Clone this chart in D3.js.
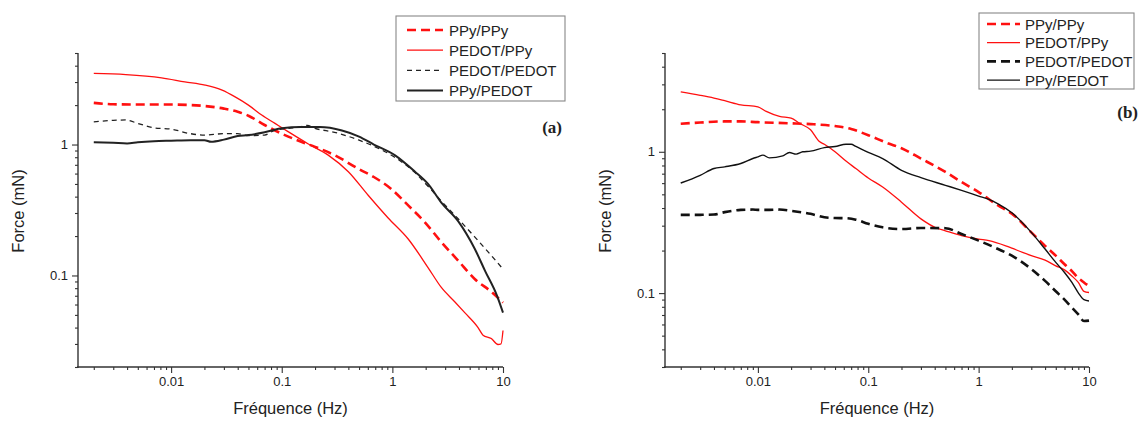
<!DOCTYPE html>
<html>
<head>
<meta charset="utf-8">
<script src="https://cdn.jsdelivr.net/npm/d3@7"></script>
<style>
  body { margin: 0; background: #fff; }
  text { font-family: "Liberation Sans", Arial, sans-serif; fill: #222; }
</style>
</head>
<body>
<svg id="drawing_region"></svg>
<script>
// ---- data (frequency in Hz, force in mN) ----
const SERIES_NAMES = ['PPy/PPy', 'PEDOT/PPy', 'PEDOT/PEDOT', 'PPy/PEDOT'];
const X_TICK_LABELS = [0.01, 0.1, 1, 10];
const Y_TICK_LABELS = [0.1, 1];

// panel (a)
const a_ppy_ppy = [[0.002,2.08],[0.003,2.03],[0.005,2.02],[0.01,2.02],[0.02,1.97],[0.03,1.88],[0.04,1.78],
  [0.05,1.66],[0.07,1.41],[0.1,1.21],[0.15,1.05],[0.2,0.96],[0.3,0.83],[0.49,0.655],[0.68,0.565],[0.97,0.46],
  [1.39,0.343],[1.96,0.256],[2.77,0.18],[3.93,0.13],[5.55,0.094],[7.84,0.075],[10,0.062]];
const a_pedot_ppy = [[0.002,3.49],[0.0039,3.42],[0.0082,3.23],[0.0133,3.01],[0.0203,2.84],[0.0289,2.60],
  [0.0379,2.31],[0.05,2.0],[0.0659,1.68],[0.0869,1.45],[0.115,1.25],[0.174,1.01],[0.263,0.83],[0.40,0.62],
  [0.604,0.41],[0.916,0.275],[1.39,0.19],[2.10,0.115],[2.77,0.081],[3.66,0.063],[4.51,0.052],[5.95,0.040],
  [6.6,0.035],[7.84,0.033],[9.0,0.0297],[9.6,0.030],[10,0.038]];
const a_pedot_pedot = [[0.002,1.49],[0.003,1.53],[0.0039,1.54],[0.005,1.45],[0.007,1.34],[0.01,1.31],
  [0.015,1.21],[0.02,1.18],[0.03,1.21],[0.04,1.21],[0.05,1.17],[0.07,1.18],[0.087,1.29],[0.1,1.31],
  [0.15,1.37],[0.17,1.40],[0.2,1.33],[0.3,1.24],[0.5,1.08],[0.7,0.96],[1.05,0.80],[1.6,0.61],[2.1,0.48],
  [2.77,0.37],[3.93,0.271],[5.55,0.197],[7.84,0.142],[10,0.112]];
const a_ppy_pedot = [[0.002,1.04],[0.003,1.03],[0.004,1.02],[0.005,1.04],[0.007,1.06],[0.01,1.07],
  [0.015,1.08],[0.02,1.08],[0.023,1.05],[0.03,1.09],[0.04,1.16],[0.05,1.18],[0.07,1.24],[0.1,1.33],
  [0.15,1.36],[0.22,1.36],[0.35,1.28],[0.5,1.15],[0.68,1.0],[1.05,0.83],[1.6,0.62],[2.1,0.50],[2.77,0.36],
  [3.93,0.26],[5.55,0.16],[6.9,0.108],[8.8,0.0705],[10,0.052]];

// panel (b)
const b_ppy_ppy = [[0.002,1.58],[0.003,1.61],[0.005,1.64],[0.007,1.64],[0.01,1.62],[0.02,1.59],[0.03,1.57],
  [0.05,1.52],[0.07,1.45],[0.1,1.31],[0.15,1.15],[0.2,1.06],[0.3,0.896],[0.5,0.72],[0.7,0.611],[1,0.519],
  [1.5,0.417],[2,0.365],[3,0.269],[4,0.216],[5,0.184],[6,0.160],[7,0.143],[8,0.128],[9,0.119],[10,0.112]];
const b_pedot_ppy = [[0.002,2.65],[0.003,2.51],[0.004,2.40],[0.005,2.30],[0.007,2.15],[0.01,2.08],
  [0.0119,1.93],[0.0157,1.78],[0.02,1.73],[0.0238,1.59],[0.03,1.43],[0.0361,1.18],[0.04,1.13],[0.05,1.00],
  [0.0628,0.86],[0.0772,0.761],[0.1,0.653],[0.135,0.563],[0.2,0.44],[0.3,0.335],[0.41,0.29],[0.5,0.276],
  [0.7,0.255],[1,0.241],[1.24,0.235],[1.76,0.216],[2,0.208],[2.5,0.194],[3,0.184],[4,0.171],[5,0.156],
  [6,0.146],[7,0.132],[8,0.119],[9,0.103],[10,0.101]];
const b_pedot_pedot = [[0.002,0.358],[0.003,0.358],[0.004,0.360],[0.005,0.374],[0.007,0.388],[0.009,0.390],
  [0.01,0.388],[0.0127,0.388],[0.0157,0.390],[0.02,0.382],[0.03,0.364],[0.04,0.344],[0.05,0.340],
  [0.0628,0.339],[0.0772,0.331],[0.1,0.309],[0.135,0.292],[0.2,0.284],[0.3,0.289],[0.5,0.288],[0.7,0.262],
  [1,0.235],[1.5,0.205],[2,0.184],[3,0.148],[4,0.122],[5,0.103],[6,0.090],[7,0.079],[8,0.0707],[9,0.0634],
  [10,0.0639]];
const b_ppy_pedot = [[0.002,0.601],[0.003,0.682],[0.004,0.761],[0.005,0.782],[0.007,0.826],[0.009,0.896],
  [0.01,0.921],[0.0111,0.947],[0.0127,0.906],[0.0168,0.936],[0.0193,0.989],[0.0222,0.962],[0.0255,1.00],
  [0.03,1.01],[0.04,1.07],[0.05,1.09],[0.0628,1.13],[0.07,1.13],[0.0772,1.09],[0.1,0.989],[0.135,0.896],
  [0.2,0.74],[0.3,0.656],[0.5,0.579],[0.7,0.533],[1,0.486],[1.24,0.46],[1.5,0.428],[2,0.37],[3,0.269],
  [4,0.205],[5,0.165],[6,0.140],[7,0.119],[8,0.1005],[9,0.090],[10,0.088]];

// line styles per panel, same order as SERIES_NAMES
const RED = '#ff1010', BLACK = '#111';
const styles_a = [
  {color: RED, width: 2.6, dash: '9,5'},
  {color: RED, width: 1.3, dash: null},
  {color: '#222', width: 1.3, dash: '5,4'},
  {color: '#222', width: 2.0, dash: null}
];
const styles_b = [
  {color: RED, width: 2.6, dash: '9,5'},
  {color: RED, width: 1.3, dash: null},
  {color: BLACK, width: 2.6, dash: '9,5'},
  {color: BLACK, width: 1.4, dash: null}
];

const svg = d3.select('#drawing_region')
  .attr('width', 1145)
  .attr('height', 424);

class LogPanel {
  constructor(config, series) {
    this.config = config;
    this.series = series;
    this.init();
  }

  init() {
    let self = this;
    const c = self.config;
    self.xscale = d3.scaleLog().domain(c.xdomain).range([c.left, c.right]);
    self.yscale = d3.scaleLog().domain(c.ydomain).range([c.bottom, c.top]);
  }

  // every 1..9 x 10^n inside the domain
  allTicks(domain) {
    const out = [];
    for (let e = -4; e <= 2; e++) {
      for (let k = 1; k <= 9; k++) {
        const v = +(k * Math.pow(10, e)).toPrecision(2);
        if (v >= domain[0] * 0.999 && v <= domain[1] * 1.001) out.push(v);
      }
    }
    return out;
  }

  render() {
    let self = this;
    const c = self.config;
    const g = svg.append('g');

    // series
    const line = d3.line()
      .curve(d3.curveMonotoneX)
      .x(d => self.xscale(d[0]))
      .y(d => self.yscale(d[1]));

    g.selectAll('path.series')
      .data(self.series)
      .join('path')
      .attr('class', 'series')
      .attr('d', d => line(d.values))
      .attr('fill', 'none')
      .attr('stroke', d => d.style.color)
      .attr('stroke-width', d => d.style.width)
      .attr('stroke-dasharray', d => d.style.dash)
      .attr('stroke-linejoin', 'round');

    // axes
    const xmajor = X_TICK_LABELS;
    const ymajor = Y_TICK_LABELS;
    const xAxis = d3.axisBottom(self.xscale)
      .tickValues(self.allTicks([0.002, 10]))
      .tickFormat(d => xmajor.includes(d) ? String(d) : '')
      .tickSizeOuter(0).tickSize(6).tickPadding(4);
    const yAxis = d3.axisLeft(self.yscale)
      .tickValues(self.allTicks(c.ydomain))
      .tickFormat(d => ymajor.includes(d) ? String(d) : '')
      .tickSizeOuter(0).tickSize(6).tickPadding(4);

    const gx = g.append('g').attr('transform', `translate(0,${c.bottom})`).call(xAxis);
    const gy = g.append('g').attr('transform', `translate(${c.left},0)`).call(yAxis);

    [gx, gy].forEach(ax => {
      ax.select('.domain').attr('stroke', '#333').attr('stroke-width', 1.4);
      ax.selectAll('.tick line').attr('stroke', '#333').attr('stroke-width', 1.1);
      ax.selectAll('.tick text')
        .attr('font-size', 13)
        .attr('font-family', '"Liberation Sans", Arial, sans-serif')
        .attr('fill', '#222');
    });
    gx.selectAll('.tick line').attr('y2', d => xmajor.includes(d) ? 6 : 3);
    gy.selectAll('.tick line').attr('x2', d => ymajor.includes(d) ? -6 : -3);
    // extend the axis lines so they meet in the corner
    gx.select('.domain').attr('d', `M${c.left - 1},0H${c.right}`);
    gy.select('.domain').attr('d', `M0,${c.top}V${c.bottom + 1}`);

    // axis titles
    g.append('text')
      .attr('x', (c.left + c.right) / 2)
      .attr('y', 414)
      .attr('text-anchor', 'middle')
      .attr('font-size', 16.5)
      .text('Fréquence (Hz)');
    g.append('text')
      .attr('transform', `translate(${c.ytitle_x},${(c.top + c.bottom) / 2 + 1}) rotate(-90)`)
      .attr('text-anchor', 'middle')
      .attr('font-size', 16.5)
      .text('Force (mN)');

    // panel letter
    g.append('text')
      .attr('x', c.tag[0]).attr('y', c.tag[1])
      .attr('text-anchor', 'end')
      .attr('font-size', 17)
      .attr('font-weight', 'bold')
      .style('font-family', '"Liberation Serif", "Times New Roman", serif')
      .text(c.tagText);

    // legend
    const L = c.legend;
    g.append('rect')
      .attr('x', L.x).attr('y', L.y).attr('width', L.w).attr('height', L.h)
      .attr('fill', '#fff').attr('stroke', '#888').attr('stroke-width', 1.1);
    const items = g.selectAll('g.leg')
      .data(self.series)
      .join('g')
      .attr('class', 'leg')
      .attr('transform', (d, i) => `translate(0,${L.row0 + i * L.step})`);
    items.append('line')
      .attr('x1', L.lx1).attr('x2', L.lx2)
      .attr('stroke', d => d.style.color)
      .attr('stroke-width', d => d.style.width)
      .attr('stroke-dasharray', d => d.style.dash);
    items.append('text')
      .attr('x', L.tx).attr('y', 5.5)
      .attr('font-size', 15)
      .text(d => d.name);
  }
}

const panel_a = new LogPanel({
  left: 78, right: 503, top: 53, bottom: 367,
  xdomain: [0.00144, 10], ydomain: [0.02, 5],
  ytitle_x: 24, tag: [562, 133], tagText: '(a)',
  legend: {x: 396, y: 16, w: 169, h: 85, row0: 30, step: 20.2, lx1: 407, lx2: 443, tx: 449}
}, [a_ppy_ppy, a_pedot_ppy, a_pedot_pedot, a_ppy_pedot].map((v, i) =>
  ({name: SERIES_NAMES[i], values: v, style: styles_a[i]})));
panel_a.render();

const panel_b = new LogPanel({
  left: 665, right: 1089, top: 53, bottom: 367,
  xdomain: [0.00144, 10], ydomain: [0.03, 5],
  ytitle_x: 611, tag: [1138, 118], tagText: '(b)',
  legend: {x: 979, y: 13, w: 155, h: 76, row0: 24, step: 18.7, lx1: 987, lx2: 1020, tx: 1025}
}, [b_ppy_ppy, b_pedot_ppy, b_pedot_pedot, b_ppy_pedot].map((v, i) =>
  ({name: SERIES_NAMES[i], values: v, style: styles_b[i]})));
panel_b.render();
</script>
</body>
</html>
